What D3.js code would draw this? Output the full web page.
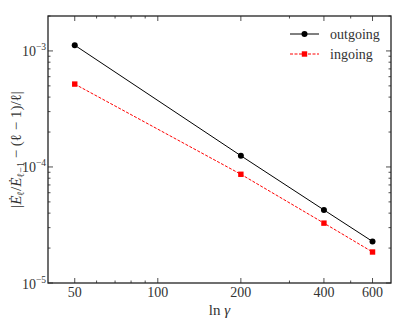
<!DOCTYPE html>
<html lang="en">
<head>
  <meta charset="UTF-8"/>
  <title>Convergence in ln gamma</title>
  <style>
    *{margin:0;padding:0}
    body{background:#fff;width:403px;height:322px;overflow:hidden}
  </style>
</head>
<body>
  <svg id="chart" width="403" height="322"></svg>
  <script src="https://d3js.org/d3.v7.min.js"></script>
  <script>
    // values
    const lnGamma  = [50, 200, 400, 600];
    const outgoing = [1.12e-3, 1.25e-4, 4.26e-5, 2.28e-5];
    const ingoing  = [5.18e-4, 8.65e-5, 3.28e-5, 1.85e-5];
    const xTicks   = [50, 100, 200, 400, 600];
    const xMinor   = [60, 70, 80, 90, 300, 500];
    const yTicks   = [1e-5, 1e-4, 1e-3];

    const FONT = 'Liberation Serif';
    const m = {l:48, r:391, t:16, b:283};
    const svg = d3.select('#chart');
    const txt = sel => sel.append('text').attr('font-family', FONT).attr('fill', '#333');

    const x = d3.scaleLog().domain([40, 700]).range([m.l, m.r]);
    const y = d3.scaleLog().domain([1e-5, 2e-3]).range([m.b, m.t]);

    // minor y ticks 2..9 per decade
    const yMinor = [];
    [-5, -4, -3].forEach(e => {
      for (let k = 2; k <= 9; k++) {
        const v = k * Math.pow(10, e);
        if (v <= 2e-3) yMinor.push(v);
      }
    });

    const g = svg.append('g');
    const tick = (x1, y1, x2, y2) =>
      g.append('line').attr('x1', x1).attr('y1', y1).attr('x2', x2).attr('y2', y2)
        .attr('stroke', '#222').attr('stroke-width', 0.8);

    // x ticks, inward on top and bottom
    xTicks.forEach(v => { tick(x(v), m.b, x(v), m.b - 5); tick(x(v), m.t, x(v), m.t + 5); });
    xMinor.forEach(v => { tick(x(v), m.b, x(v), m.b - 2.5); tick(x(v), m.t, x(v), m.t + 2.5); });
    // y ticks, inward on left and right
    yTicks.forEach(v => { tick(m.l, y(v), m.l + 5, y(v)); tick(m.r, y(v), m.r - 5, y(v)); });
    yMinor.forEach(v => { tick(m.l, y(v), m.l + 2.5, y(v)); tick(m.r, y(v), m.r - 2.5, y(v)); });

    // x tick labels
    xTicks.forEach(v => {
      txt(svg).attr('x', x(v)).attr('y', m.b + 13.5)
        .attr('text-anchor', 'middle').attr('font-size', 14).text(v);
    });

    // y tick labels 10^e
    yTicks.forEach(v => {
      const t = txt(svg).attr('x', m.l - 2).attr('y', y(v) + 5.5)
        .attr('text-anchor', 'end').attr('font-size', 14);
      t.append('tspan').text('10');
      t.append('tspan').attr('dy', -6).attr('font-size', 9.5).text('\u2212' + Math.round(-Math.log10(v)));
    });

    // lines
    const line = d3.line().x(d => x(d[0])).y(d => y(d[1]));
    const outPts = lnGamma.map((v, i) => [v, outgoing[i]]);
    const inPts  = lnGamma.map((v, i) => [v, ingoing[i]]);

    svg.append('path').datum(outPts).attr('d', line)
      .attr('fill', 'none').attr('stroke', '#000').attr('stroke-width', 1);
    svg.append('path').datum(inPts).attr('d', line)
      .attr('fill', 'none').attr('stroke', '#ff0000').attr('stroke-width', 1)
      .attr('stroke-dasharray', '3,1.5');

    svg.append('g').selectAll('circle').data(outPts).join('circle')
      .attr('cx', d => x(d[0])).attr('cy', d => y(d[1])).attr('r', 3).attr('fill', '#000');
    svg.append('g').selectAll('rect').data(inPts).join('rect')
      .attr('x', d => x(d[0]) - 2.7).attr('y', d => y(d[1]) - 2.7)
      .attr('width', 5.4).attr('height', 5.4).attr('fill', '#ff0000');

    // frame
    svg.append('rect').attr('x', m.l).attr('y', m.t)
      .attr('width', m.r - m.l).attr('height', m.b - m.t)
      .attr('fill', 'none').attr('stroke', '#222').attr('stroke-width', 1.3);

    // legend
    const leg = svg.append('g');
    leg.append('line').attr('x1', 290).attr('x2', 319).attr('y1', 34).attr('y2', 34)
      .attr('stroke', '#000').attr('stroke-width', 1);
    leg.append('circle').attr('cx', 304.5).attr('cy', 34).attr('r', 3).attr('fill', '#000');
    txt(leg).attr('x', 330).attr('y', 38.5).attr('font-size', 14).text('outgoing');
    leg.append('line').attr('x1', 290).attr('x2', 319).attr('y1', 54).attr('y2', 54)
      .attr('stroke', '#ff0000').attr('stroke-width', 1).attr('stroke-dasharray', '3,1.5');
    leg.append('rect').attr('x', 301.8).attr('y', 51.3).attr('width', 5.4).attr('height', 5.4).attr('fill', '#ff0000');
    txt(leg).attr('x', 330).attr('y', 58.5).attr('font-size', 14).text('ingoing');

    // axis labels
    const xl = txt(svg).attr('x', (m.l + m.r) / 2).attr('y', 315)
      .attr('text-anchor', 'middle').attr('font-size', 15);
    xl.append('tspan').text('ln ');
    xl.append('tspan').attr('font-style', 'italic').text('\u03b3');

    const yl = txt(svg)
      .attr('transform', `translate(21,${(m.t + m.b) / 2}) rotate(-90)`)
      .attr('text-anchor', 'middle').attr('font-size', 15);
    yl.append('tspan').text('|');
    yl.append('tspan').attr('font-style', 'italic').text('\u0116');
    yl.append('tspan').attr('dy', 3).attr('font-size', 10).text('\u2113');
    yl.append('tspan').attr('dy', -3).text('/');
    yl.append('tspan').attr('font-style', 'italic').text('\u0116');
    yl.append('tspan').attr('dy', 3).attr('font-size', 10).text('\u2113\u22121');
    yl.append('tspan').attr('dy', -3).text('  \u2212 (\u2113 \u2212 1)/\u2113|');
  </script>
</body>
</html>
